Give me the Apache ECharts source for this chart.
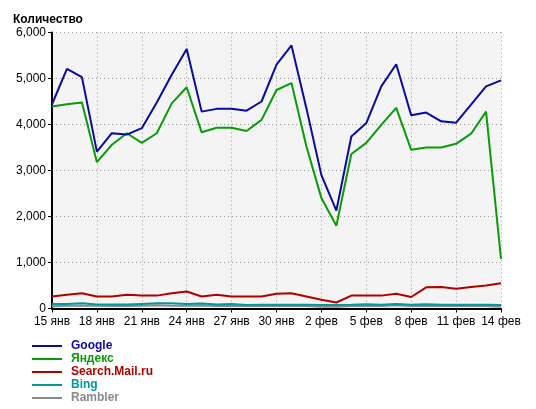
<!DOCTYPE html>
<html><head><meta charset="utf-8">
<script src="https://cdn.jsdelivr.net/npm/echarts@6/dist/echarts.min.js"></script>
<style>html,body{margin:0;padding:0;background:#fff}#c{width:536px;height:409px}</style>
</head><body><div id="c"></div>
<script>
const categories = ['15 янв','16 янв','17 янв','18 янв','19 янв','20 янв','21 янв','22 янв','23 янв','24 янв','25 янв','26 янв','27 янв','28 янв','29 янв','30 янв','31 янв','1 фев','2 фев','3 фев','4 фев','5 фев','6 фев','7 фев','8 фев','9 фев','10 фев','11 фев','12 фев','13 фев','14 фев'];
const google = [4440,5210,5030,3410,3810,3780,3920,4480,5080,5640,4280,4340,4340,4300,4500,5300,5720,4350,2900,2130,3740,4030,4830,5310,4200,4260,4070,4040,4430,4830,4960];
const yandex = [4390,4440,4480,3180,3560,3810,3600,3810,4460,4810,3830,3930,3930,3860,4100,4750,4900,3520,2400,1800,3360,3600,3990,4360,3450,3500,3500,3580,3800,4280,1080];
const mail = [260,300,330,260,260,300,280,280,330,370,260,300,260,260,260,320,330,260,190,130,280,280,280,320,250,460,465,430,465,500,550];
const bing = [100,100,115,85,85,85,100,115,115,100,110,85,100,75,80,80,80,80,75,75,80,95,80,100,80,95,80,80,80,80,75];
const rambler = [50,60,60,60,55,55,60,70,60,60,65,55,60,55,55,55,55,55,40,40,55,60,55,70,55,60,55,55,55,55,40];
const seriesNames = ['Google','Яндекс','Search.Mail.ru','Bing','Rambler'];
const colors = ['#0a0a9c','#0a9a0a','#b00000','#009999','#8a8a8a'];
const yTicks = [0,1000,2000,3000,4000,5000,6000];

const dataArr = [google,yandex,mail,bing,rambler];
const chart = echarts.init(document.getElementById('c'), null, {renderer:'canvas'});
const font = 'Liberation Sans, Arial, sans-serif';
chart.setOption({
  animation:false,
  backgroundColor:'#fff',
  title:{text:'Количество',left:8,top:9,textStyle:{fontFamily:font,fontSize:12,fontWeight:'bold',color:'#000'}},
  legend:{
    orient:'vertical',left:32,top:340,height:69,padding:0,itemGap:1,itemWidth:30,itemHeight:12,
    icon:'path://M0,5 L30,5 L30,7 L0,7 Z',
    data:seriesNames.map((n,i)=>({name:n,textStyle:{color:colors[i]}})),
    textStyle:{fontFamily:font,fontSize:12,fontWeight:'bold',padding:[0,0,0,4]}
  },
  grid:{left:52,right:35,top:32.5,bottom:100.5,show:true,backgroundColor:'#f4f4f4',borderWidth:0},
  xAxis:{
    type:'category',data:categories,boundaryGap:false,
    axisLine:{lineStyle:{color:'#000',width:2}},
    axisTick:{interval:2,length:4,lineStyle:{color:'#000'}},
    axisLabel:{interval:2,color:'#000',fontFamily:font,fontSize:12,margin:7},
    splitLine:{show:true,interval:2,lineStyle:{color:'#999',type:[1,3],width:1}}
  },
  yAxis:{
    type:'value',min:0,max:6000,interval:1000,
    axisLine:{show:true,lineStyle:{color:'#000',width:2}},
    axisTick:{show:true,length:4,lineStyle:{color:'#000'}},
    axisLabel:{color:'#000',fontFamily:font,fontSize:12,margin:6,
      formatter:v=>yTicks.includes(v)?v.toLocaleString('en-US'):''},
    splitLine:{show:true,lineStyle:{color:'#999',type:[1,3],width:1}}
  },
  series:dataArr.map((d,i)=>({
    name:seriesNames[i],type:'line',data:d,symbol:'none',
    lineStyle:{color:colors[i],width:2},itemStyle:{color:colors[i]},
    z:10-i
  }))
});
</script></body></html>
